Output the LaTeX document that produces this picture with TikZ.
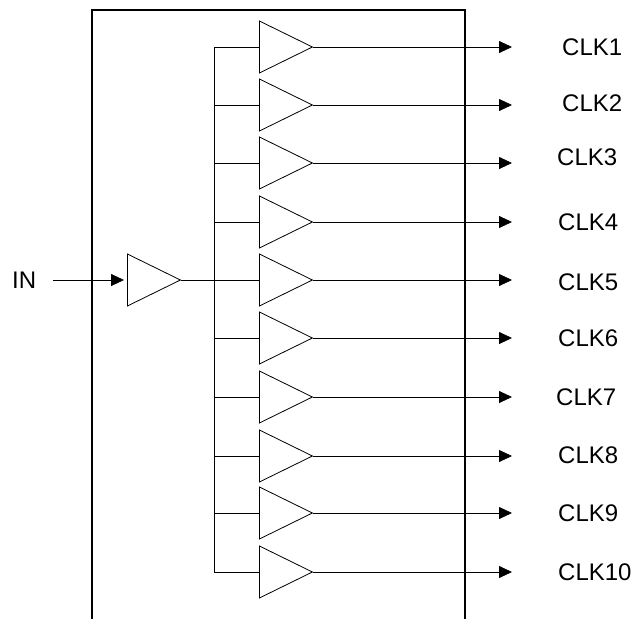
\documentclass[tikz,border=0pt]{standalone}
\usepackage{fontspec}
\setmainfont{Liberation Sans}
\usetikzlibrary{shapes.geometric,arrows.meta}
\begin{document}
\begin{tikzpicture}[x=1pt,y=-1pt,
  buf/.style={draw,isosceles triangle,isosceles triangle stretches,
    minimum height=53pt,minimum width=52pt,inner sep=0pt,anchor=west,line width=0.8pt},
  wire/.style={line width=0.8pt},
  sig/.style={wire,-{Triangle[length=13pt,width=12pt]}},
  lbl/.style={anchor=west,inner sep=0pt,font=\fontsize{24}{28}\selectfont},
  frame/.style={line width=1.6pt}]
\useasboundingbox (0,0) rectangle (638,619);
% chip outline (open at the bottom)
\coordinate (fbl) at (92,619);
\coordinate (ftl) at (92,10);
\coordinate (ftr) at (465,10);
\coordinate (fbr) at (465,619);
\draw[frame] (fbl) -- (ftl) -- (ftr) -- (fbr);
% input
\node[lbl] (in) at (12,280) {IN};
\node[buf] (ib) at (127,280) {};
\coordinate (inend) at (124,280);
\draw[sig] ([xshift=17pt]in.east) -- (inend);
% bus
\coordinate (bust) at (214,47);
\coordinate (busb) at (214,572);
\draw[wire] (bust) -- (busb);
% output buffers
\foreach \y/\lx/\ly [count=\i] in {47/562/47,105/562/103,163/557/157,222/558/222,280/558/282,
                                    338/558/338,397/556/397,456/558/455,513/558/513,572/558/572}{
  \node[buf] (b\i) at (259,\y) {};
  \coordinate (t\i) at (512,\y);
  \node[lbl] (c\i) at (\lx,\ly) {CLK\i};
  \draw[wire] (b\i.west -| bust) -- (b\i.west);
  \draw[sig] (b\i.east) -- (t\i);
}
\draw[wire] (ib.east) -- (b5.west);
\end{tikzpicture}
\end{document}
